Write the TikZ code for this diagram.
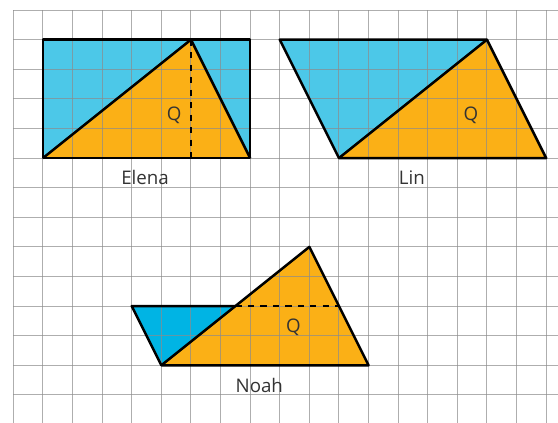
\documentclass[tikz,border=0pt]{standalone}
\usepackage{fontspec}
\setmainfont{Open Sans}
\usepackage{tikz}
\usetikzlibrary{positioning}

\definecolor{skyfill}{HTML}{4CC8E8}
\definecolor{deepsky}{HTML}{00B4E4}
\definecolor{ambfill}{HTML}{FBB016}
\definecolor{txtgray}{HTML}{333333}

\begin{document}
\begin{tikzpicture}[x=0.5cm, y=-0.5cm, every node/.style={font=\fontsize{9}{11}\selectfont, text=txtgray},
                    edge/.style={line width=1.2pt, line join=round},
                    cut/.style={dashed, line width=0.7pt},
                    gridline/.style={black!45, line width=0.5pt, opacity=0.7}]
    \useasboundingbox (-0.45,-0.34) rectangle (18.4,13.92);
    \clip (-0.45,-0.34) rectangle (18.4,13.92);
    % Elena
    \coordinate (eA) at (1,5); \coordinate (eB) at (6,1);
    \coordinate (eC) at (8,5); \coordinate (eH) at (6,5);
    \fill[skyfill] (1,1) rectangle (8,5);
    \fill[ambfill] (eA)--(eB)--(eC)--cycle;
    % Lin
    \coordinate (lA) at (9,1);  \coordinate (lB) at (16,1);
    \coordinate (lC) at (18,5); \coordinate (lD) at (11,5);
    \fill[skyfill] (lA)--(lB)--(lD)--cycle;
    \fill[ambfill] (lD)--(lB)--(lC)--cycle;
    % Noah
    \coordinate (nA) at (4,10);  \coordinate (nM) at (7.5,10);
    \coordinate (nB) at (5,12);  \coordinate (nT) at (10,8);
    \coordinate (nC) at (12,12); \coordinate (nR) at (11,10);
    \fill[deepsky] (nA)--(nM)--(nB)--cycle;
    \fill[ambfill] (nB)--(nT)--(nC)--cycle;
    % grid on top
    \foreach \i in {0,...,18} \draw[gridline] (\i,0)--(\i,14);
    \foreach \j in {0,...,13} \draw[gridline] (0,\j)--(19,\j);
    % outlines
    \draw[edge] (1,1) rectangle (8,5);
    \draw[edge] (eA)--(eB)--(eC);
    \draw[cut] (eB)--(eH);
    \draw[edge] (lA)--(lB)--(lC)--(lD)--cycle;
    \draw[edge] (lD)--(lB);
    \draw[edge] (nM)--(nA)--(nB);
    \draw[edge] (nB)--(nT)--(nC)--cycle;
    \draw[cut] (nM)--(nR);
    % labels
    \node (qE) at (5.43,3.55) {Q};
    \node (elena) at (4.45,5.67) {Elena};
    \node (qL) at (15.46,3.55) {Q};
    \node (lin) at (13.46,5.67) {Lin};
    \node (qN) at (9.46,10.7) {Q};
    \node (noah) at (8.31,12.67) {Noah};
\end{tikzpicture}
\end{document}
